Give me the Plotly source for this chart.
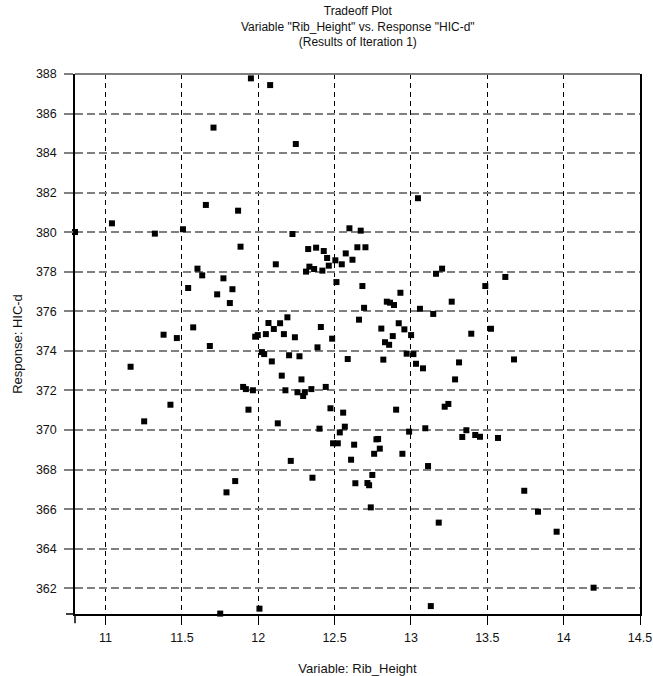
import plotly.graph_objects as go

rib_height = [
    11.952, 12.078, 11.707, 12.246, 11.657, 11.868, 11.042, 10.800, 11.323, 11.507,
    12.224, 11.884, 12.597, 12.671, 12.327, 12.379, 12.429, 12.451, 12.573, 12.617,
    12.649, 12.702, 12.505, 12.462, 12.547, 12.420, 12.366, 12.335, 12.313, 12.115,
    11.602, 11.633, 11.772, 11.541, 11.831, 11.731, 11.814, 12.512, 12.682, 12.191,
    12.067, 12.143, 12.102, 11.574, 12.410, 12.660, 11.380, 11.467, 11.980, 11.997,
    12.050, 12.168, 12.240, 12.484, 11.683, 12.388, 12.024, 12.039, 12.089, 12.202,
    12.270, 12.586, 11.164, 12.154, 12.283, 11.901, 11.919, 11.965, 12.178, 12.257,
    12.305, 12.294, 12.348, 12.442, 11.425, 11.936, 12.473, 12.556, 11.253, 12.128,
    12.401, 12.567, 12.534, 12.490, 12.521, 12.628, 12.608, 12.213, 12.355, 12.636,
    11.849, 11.792, 12.008, 11.751, 13.046, 13.164, 13.204, 13.618, 13.487, 12.931,
    12.842, 12.863, 12.889, 13.267, 12.693, 13.059, 13.146, 12.806, 12.920, 12.957,
    13.001, 12.881, 13.395, 13.524, 12.830, 12.857, 12.819, 12.972, 13.016, 13.033,
    13.079, 13.315, 13.289, 13.675, 12.903, 13.221, 13.245, 12.988, 13.094, 13.363,
    13.336, 13.421, 13.452, 13.570, 12.774, 12.785, 12.796, 12.759, 12.944, 13.112,
    12.747, 12.715, 12.726, 12.737, 13.742, 13.832, 13.182, 13.954, 14.196, 13.130,
]

hic_d = [
    387.78, 387.44, 385.29, 384.46, 381.38, 381.09, 380.45, 380.01, 379.93, 380.15,
    379.91, 379.27, 380.20, 380.08, 379.15, 379.22, 379.05, 378.70, 378.93, 378.61,
    379.24, 379.24, 378.58, 378.31, 378.38, 378.06, 378.14, 378.26, 378.01, 378.38,
    378.16, 377.82, 377.67, 377.18, 377.12, 376.86, 376.42, 377.48, 377.28, 375.70,
    375.41, 375.40, 375.11, 375.19, 375.21, 375.58, 374.82, 374.65, 374.72, 374.80,
    374.85, 374.85, 374.69, 374.62, 374.25, 374.18, 373.94, 373.84, 373.47, 373.78,
    373.73, 373.59, 373.20, 372.75, 372.56, 372.18, 372.07, 372.01, 372.01, 371.91,
    371.91, 371.72, 372.07, 372.18, 371.28, 371.03, 371.10, 370.88, 370.44, 370.34,
    370.07, 370.17, 369.88, 369.33, 369.33, 369.26, 368.50, 368.44, 367.59, 367.31,
    367.42, 366.85, 360.97, 360.72, 381.72, 377.90, 378.16, 377.74, 377.28, 376.94,
    376.49, 376.44, 376.32, 376.49, 376.18, 376.13, 375.87, 375.13, 375.40, 375.09,
    374.80, 374.75, 374.87, 375.12, 374.44, 374.31, 373.56, 373.86, 373.84, 373.35,
    373.12, 373.42, 372.56, 373.57, 371.03, 371.18, 371.32, 369.92, 370.09, 369.99,
    369.65, 369.75, 369.66, 369.60, 369.53, 369.55, 369.06, 368.80, 368.80, 368.18,
    367.73, 367.32, 367.21, 366.09, 366.93, 365.87, 365.32, 364.86, 362.03, 361.10,
]

x_ticks = [11, 11.5, 12, 12.5, 13, 13.5, 14, 14.5]
x_tick_labels = ["11", "11.5", "12", "12.5", "13", "13.5", "14", "14.5"]
y_ticks = [362, 364, 366, 368, 370, 372, 374, 376, 378, 380, 382, 384, 386, 388]
y_tick_labels = [str(v) for v in y_ticks]

title_lines = [
    "Tradeoff Plot",
    'Variable "Rib_Height" vs. Response "HIC-d"',
    "(Results of Iteration 1)",
]
x_title = "Variable: Rib_Height"
y_title = "Response: HIC-d"

FONT = "Liberation Sans, Arial, sans-serif"

fig = go.Figure()
fig.add_trace(go.Scatter(
    x=rib_height, y=hic_d, mode="markers",
    marker=dict(symbol="square", size=6, color="black", line=dict(width=0)),
    showlegend=False, cliponaxis=False,
))

fig.add_annotation(
    text="<br>".join(title_lines), xref="paper", yref="paper", x=0.5, y=1.0880,
    xanchor="center", yanchor="middle", showarrow=False, align="center",
    font=dict(family=FONT, size=12, color="#111111"),
)

fig.update_layout(
    width=653, height=676,
    margin=dict(l=75, r=13, t=74, b=62, autoexpand=False),
    paper_bgcolor="white", plot_bgcolor="white",
    font=dict(family=FONT, size=13, color="#111111"),
    xaxis=dict(
        range=[10.8, 14.5], tickvals=x_ticks, ticktext=x_tick_labels,
        showgrid=True, gridcolor="black", gridwidth=1, griddash="5px,4px",
        showline=True, linecolor="black", linewidth=1.5,
        ticks="outside", ticklen=9, tickcolor="black", tickwidth=1,
        ticklabelstandoff=2, automargin=False,
        tickfont=dict(family=FONT, size=12.5),
        zeroline=False,
        title=dict(text=x_title, standoff=20, font=dict(family=FONT, size=13)),
    ),
    yaxis=dict(
        range=[360.7, 388], tickvals=y_ticks, ticktext=y_tick_labels,
        showgrid=True, gridcolor="#808080", gridwidth=2, griddash="8px,4px",
        showline=True, linecolor="black", linewidth=1.5, mirror=True,
        ticks="outside", ticklen=9, tickcolor="#808080", tickwidth=2,
        ticklabelstandoff=5, automargin=False,
        tickfont=dict(family=FONT, size=12.5),
        zeroline=False,
        title=dict(text=y_title, standoff=10, font=dict(family=FONT, size=13)),
    ),
    shapes=[
        dict(type="line", xref="paper", yref="paper", x0=0, x1=1, y0=1, y1=1,
             line=dict(color="#808080", width=2)),
        dict(type="line", xref="paper", yref="paper", x0=-0.016, x1=0, y0=0, y1=0,
             line=dict(color="black", width=1.5)),
        dict(type="line", xref="paper", yref="paper", x0=0, x1=0, y0=-0.017, y1=0,
             line=dict(color="black", width=1.5)),
    ],
)

fig.write_html(
    "out.html",
    config={"displayModeBar": False},
    post_script="document.body.style.margin='0';document.body.style.overflow='hidden';",
)
